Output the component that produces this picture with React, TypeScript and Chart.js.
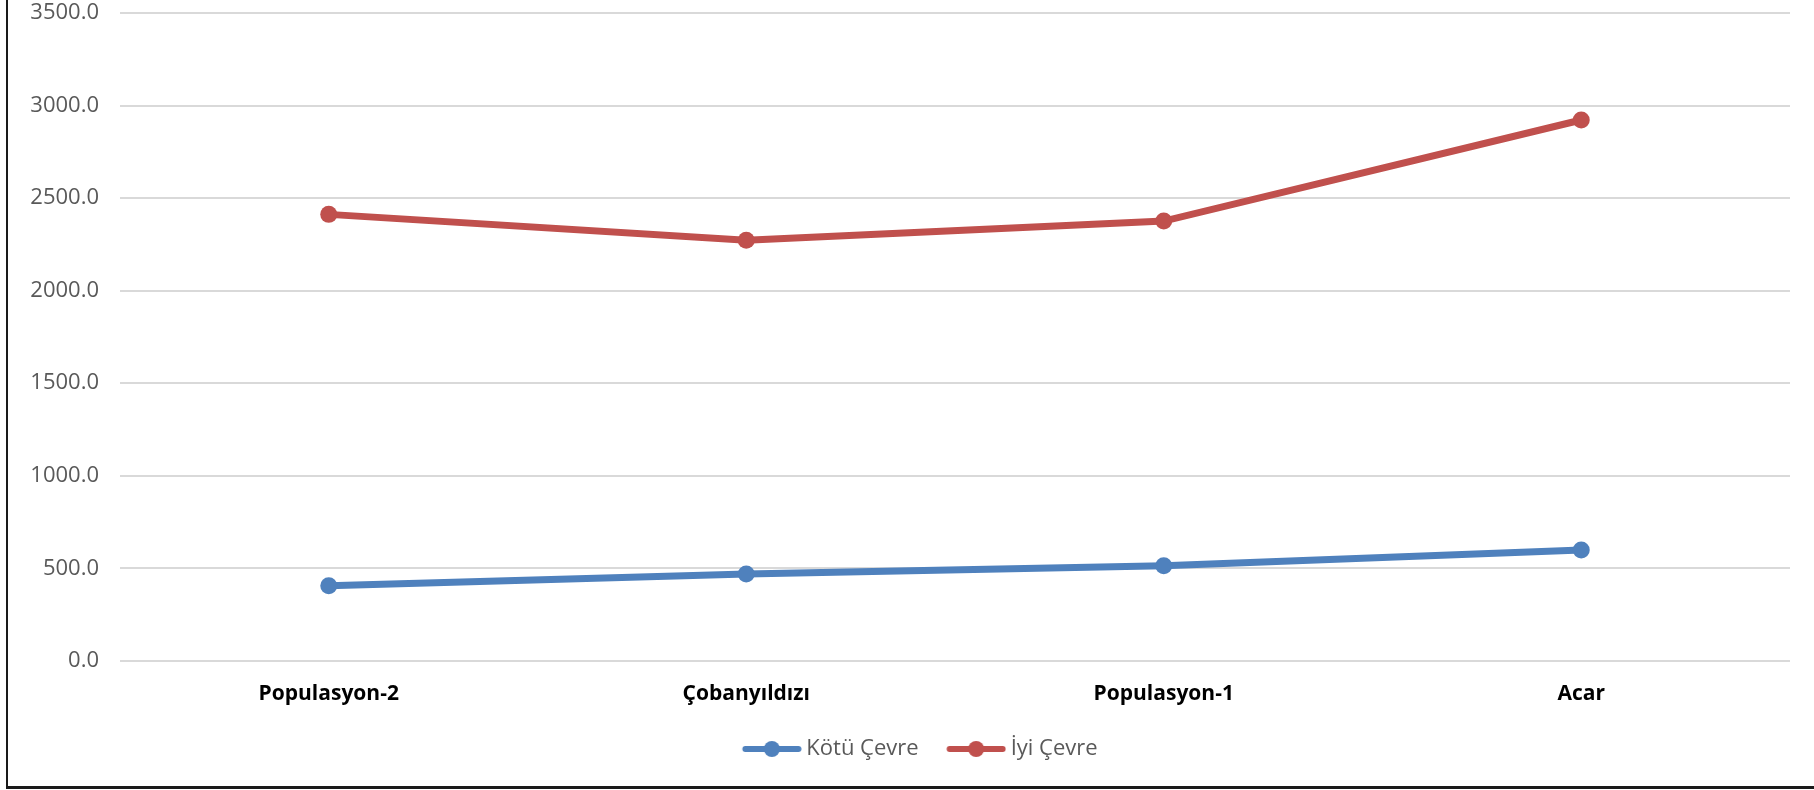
import React, { useEffect, useRef } from "react";
import { Chart, registerables } from "chart.js";

Chart.register(...registerables);

const categories = ["Populasyon-2", "Çobanyıldızı", "Populasyon-1", "Acar"];
const kotuCevre = [406, 469, 514, 599];
const iyiCevre = [2412, 2272, 2376, 2922];
const seriesNames = ["Kötü Çevre", "İyi Çevre"];
const seriesColors = ["#4f81bd", "#c0504d"];

const FONT = "'Open Sans', 'Noto Sans', sans-serif";

// legend marker: line with a dot, offset so that it ends just before the text
function legendIcon(color: string): HTMLCanvasElement {
  const c = document.createElement("canvas");
  c.width = 84;
  c.height = 18;
  const ctx = c.getContext("2d")!;
  ctx.strokeStyle = color;
  ctx.lineWidth = 6;
  ctx.lineCap = "round";
  ctx.beginPath();
  ctx.moveTo(27.5, 9);
  ctx.lineTo(80.5, 9);
  ctx.stroke();
  ctx.fillStyle = color;
  ctx.beginPath();
  ctx.arc(54, 9, 8, 0, Math.PI * 2);
  ctx.fill();
  return c;
}

const legendShift = {
  id: "legendShift",
  afterLayout(chart: any) {
    const lg = chart.legend;
    if (lg) {
      lg.left += 16;
      lg.right += 16;
    }
  },
};

export default function App() {
  const ref = useRef<HTMLCanvasElement | null>(null);

  useEffect(() => {
    document.body.style.margin = "0";
    const canvas = ref.current;
    if (!canvas) return;
    const icons = seriesColors.map(legendIcon);
    const chart = new Chart(canvas, {
      type: "line",
      data: {
        labels: categories,
        datasets: [kotuCevre, iyiCevre].map((d, i) => ({
          label: seriesNames[i],
          data: d,
          borderColor: seriesColors[i],
          backgroundColor: seriesColors[i],
          borderWidth: 7,
          pointRadius: 8.5,
          pointHoverRadius: 8.5,
          pointBackgroundColor: seriesColors[i],
          pointBorderWidth: 0,
          tension: 0,
          fill: false,
        })),
      },
      plugins: [legendShift],
      options: {
        animation: false,
        responsive: false,
        maintainAspectRatio: false,
        layout: { padding: { top: 13, left: 0, right: 24, bottom: 20 } },
        plugins: {
          tooltip: { enabled: false },
          legend: {
            position: "bottom",
            labels: {
              usePointStyle: true,
              pointStyleWidth: 71,
              boxHeight: 18,
              padding: 10,
              color: "#595959",
              font: { family: FONT, size: 22 },
              generateLabels: (ch: any) =>
                ch.data.datasets.map((ds: any, i: number) => ({
                  text: ds.label,
                  pointStyle: icons[i],
                  fillStyle: seriesColors[i],
                  strokeStyle: seriesColors[i],
                  lineWidth: 0,
                  hidden: false,
                  datasetIndex: i,
                  fontColor: "#595959",
                })),
            },
          },
        },
        scales: {
          x: {
            offset: true,
            grid: { display: false, drawTicks: false },
            border: { display: false },
            ticks: {
              color: "#000000",
              padding: 21,
              font: { family: FONT, size: 21, weight: "bold" },
            },
          },
          y: {
            min: 0,
            max: 3500,
            afterFit: (s: any) => {
              s.width = 120;
              s.paddingTop = 0;
              s.paddingBottom = 0;
            },
            grid: { color: "#d9d9d9", lineWidth: 2, drawTicks: false },
            border: { display: false },
            ticks: {
              stepSize: 500,
              padding: 21,
              color: "#595959",
              font: { family: FONT, size: 22, lineHeight: 1 },
              callback: (v: any) => Number(v).toFixed(1),
            },
          },
        },
      },
    });
    return () => chart.destroy();
  }, []);

  return (
    <div style={{ position: "relative", width: 1814, height: 790, background: "#ffffff", overflow: "hidden" }}>
      <canvas ref={ref} width={1814} height={790} style={{ position: "absolute", left: 0, top: 0, width: 1814, height: 790 }} />
      <div style={{ position: "absolute", left: 6, top: 0, width: 2, height: 789, background: "#1a1a1a" }} />
      <div style={{ position: "absolute", left: 6, top: 786, width: 1808, height: 3, background: "#1a1a1a" }} />
    </div>
  );
}
